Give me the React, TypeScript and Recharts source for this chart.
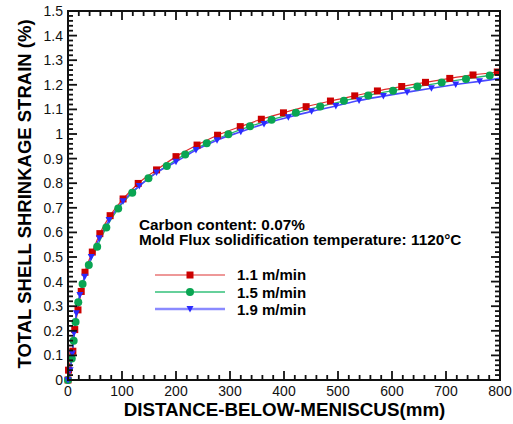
import { LineChart, Line, XAxis, YAxis } from 'recharts';

const FONT = '"Liberation Sans", Arial, Helvetica, sans-serif';

// distance below meniscus (mm) / total shell shrinkage strain (%) per casting speed
const RED_X = [0, 1, 9, 12.5, 18.5, 24.5, 31.5, 45, 59, 78, 102, 130, 164, 200, 239, 277, 319, 358, 399, 441, 486, 531, 573, 618, 662, 707, 750, 795];
const RED_Y = [0, 0.04, 0.117, 0.205, 0.285, 0.36, 0.438, 0.52, 0.595, 0.668, 0.736, 0.799, 0.854, 0.908, 0.955, 0.995, 1.03, 1.06, 1.086, 1.111, 1.134, 1.155, 1.175, 1.193, 1.21, 1.226, 1.24, 1.252];

const GREEN_X = [0, 7, 10.5, 14, 19, 27, 38.5, 54, 71, 93, 119, 149, 183, 217, 257, 297, 337, 377, 422, 467, 511, 556, 602, 647, 692, 737, 781, 800];
const GREEN_Y = [0, 0.087, 0.16, 0.236, 0.316, 0.39, 0.467, 0.542, 0.62, 0.697, 0.761, 0.82, 0.87, 0.917, 0.962, 0.999, 1.031, 1.058, 1.086, 1.112, 1.135, 1.157, 1.176, 1.193, 1.209, 1.224, 1.238, 1.244];

const BLUE_X = [0, 4, 8, 11, 15.5, 22, 31, 43, 58, 76, 102, 132, 164, 200, 237, 276, 320, 363, 408, 451, 496, 539, 584, 628, 673, 718, 762, 800];
const BLUE_Y = [0, 0.04, 0.108, 0.19, 0.271, 0.346, 0.42, 0.5, 0.576, 0.65, 0.727, 0.789, 0.843, 0.887, 0.935, 0.975, 1.009, 1.041, 1.068, 1.092, 1.114, 1.136, 1.154, 1.17, 1.186, 1.201, 1.214, 1.226];

const SPEEDS = ['1.1 m/min', '1.5 m/min', '1.9 m/min'];

const X_LABELS = [0, 100, 200, 300, 400, 500, 600, 700, 800];
const Y_LABELS = [0, 0.1, 0.2, 0.3, 0.4, 0.5, 0.6, 0.7, 0.8, 0.9, 1, 1.1, 1.2, 1.3, 1.4, 1.5];

// minor ticks every 20 mm and every 0.02 %
const X_TICKS = Array.from({ length: 41 }, (_, i) => i * 20);
const Y_TICKS = Array.from({ length: 76 }, (_, i) => i / 50);

const toPoints = (xs: number[], ys: number[]) => xs.map((x, i) => ({ x, y: ys[i] }));
const red = toPoints(RED_X, RED_Y);
const green = toPoints(GREEN_X, GREEN_Y);
const blue = toPoints(BLUE_X, BLUE_Y);

const RED = '#cc0000';
const GREEN = '#0aa552';
const BLUE = '#2b2bff';
const INK = '#111111';

const W = 513;
const H = 424;
const MARGIN = { top: 11, right: 13, bottom: 0, left: 0 };
const Y_AXIS_W = 68;
const X_AXIS_H = 44;
const PLOT_W = W - MARGIN.left - MARGIN.right - Y_AXIS_W;
const PLOT_H = H - MARGIN.top - MARGIN.bottom - X_AXIS_H;

const MAJOR = 9;
const MINOR = 5;
const TW = 1.8;
const isMajorX = (v: number) => v % 100 === 0;
const isMajorY = (v: number) => Math.round(v * 50) % 5 === 0;

function Square({ cx, cy }: { cx: number; cy: number }) {
    return <rect x={cx - 3.5} y={cy - 3.5} width={7} height={7} fill={RED} />;
}
function Circle({ cx, cy }: { cx: number; cy: number }) {
    return <circle cx={cx} cy={cy} r={4} fill={GREEN} />;
}
function Triangle({ cx, cy }: { cx: number; cy: number }) {
    return <path d={`M${cx - 3.5},${cy - 3} L${cx + 3.5},${cy - 3} L${cx},${cy + 3.5} Z`} fill={BLUE} />;
}

// bottom ticks point inward; the matching top-frame tick is drawn with it
function BottomTick({ x, y, payload }: any) {
    const v = payload.value;
    const len = isMajorX(v) ? MAJOR : MINOR;
    const top = y - PLOT_H;
    return (
        <g>
            <rect x={x - TW / 2} y={y - len} width={TW} height={len} fill={INK} />
            <rect x={x - TW / 2} y={top} width={TW} height={len} fill={INK} />
            {X_LABELS.includes(v) && (
                <text x={x} y={y + 16} textAnchor="middle" fontSize={14} fontFamily={FONT} fill={INK}>
                    {v}
                </text>
            )}
        </g>
    );
}

// left ticks point inward; the matching right-frame tick is drawn with it
function LeftTick({ x, y, payload }: any) {
    const v = payload.value;
    const len = isMajorY(v) ? MAJOR : MINOR;
    const right = x + PLOT_W;
    const label = Number(v.toFixed(1));
    return (
        <g>
            <rect x={x} y={y - TW / 2} width={len} height={TW} fill={INK} />
            <rect x={right - len} y={y - TW / 2} width={len} height={TW} fill={INK} />
            {isMajorY(v) && Y_LABELS.includes(label) && (
                <text x={x - 5} y={y + 5} textAnchor="end" fontSize={14} fontFamily={FONT} fill={INK}>
                    {String(label)}
                </text>
            )}
        </g>
    );
}

const LEGEND = [
    { label: SPEEDS[0], stroke: '#dd3333', width: 1.2, Mark: Square },
    { label: SPEEDS[1], stroke: '#33c07a', width: 1.5, Mark: Circle },
    { label: SPEEDS[2], stroke: '#8a8aff', width: 2.5, Mark: Triangle },
];

// baseline-positioned bold label (line-height 1 puts the baseline at ~0.8465em)
const boldText = (left: number, baseline: number, size: number): React.CSSProperties => ({
    position: 'absolute',
    left,
    top: baseline - 0.8465 * size,
    fontSize: size,
    lineHeight: 1,
    fontWeight: 700,
    whiteSpace: 'nowrap',
    color: '#000',
});

export default function App() {
    return (
        <div style={{ position: 'absolute', left: 0, top: 0, width: W, height: H, fontFamily: FONT }}>
            <LineChart width={W} height={H} margin={MARGIN}>
                <XAxis type="number" dataKey="x" domain={[0, 800]} ticks={X_TICKS} interval={0}
                    height={X_AXIS_H} tickSize={0} tickMargin={0} tickLine={false} stroke={INK} strokeWidth={2} tick={BottomTick} />
                <YAxis type="number" domain={[0, 1.5]} ticks={Y_TICKS} interval={0}
                    width={Y_AXIS_W} tickSize={0} tickMargin={0} tickLine={false} stroke={INK} strokeWidth={2} tick={LeftTick} />
                <Line data={red} dataKey="y" type="monotone" stroke="#e02a2a" strokeWidth={1.2}
                    dot={(p: any) => <Square key={p.index} cx={p.cx} cy={p.cy} />} activeDot={false} isAnimationActive={false} />
                <Line data={green} dataKey="y" type="monotone" stroke="#22b86c" strokeWidth={1.3}
                    dot={(p: any) => (p.index === GREEN_X.length - 1 ? <g key={p.index} /> : <Circle key={p.index} cx={p.cx} cy={p.cy} />)}
                    activeDot={false} isAnimationActive={false} />
                <Line data={blue} dataKey="y" type="monotone" stroke="#4a4aff" strokeWidth={1.6}
                    dot={(p: any) => (p.index === BLUE_X.length - 1 ? <g key={p.index} /> : <Triangle key={p.index} cx={p.cx} cy={p.cy} />)}
                    activeDot={false} isAnimationActive={false} />
            </LineChart>

            {/* plot frame */}
            <div
                style={{
                    position: 'absolute',
                    left: MARGIN.left + Y_AXIS_W - 1,
                    top: MARGIN.top - 1,
                    width: PLOT_W + 2,
                    height: PLOT_H + 2,
                    border: `2px solid ${INK}`,
                    boxSizing: 'border-box',
                    pointerEvents: 'none',
                }}
            />

            <div
                style={{
                    ...boldText(0, 0, 18.5),
                    left: 24.6,
                    top: 193.5,
                    transform: 'translate(-50%, -50%) rotate(-90deg)',
                }}
            >
                TOTAL SHELL SHRINKAGE STRAIN (%)
            </div>
            <div style={{ ...boldText(284.5, 417, 18.8), transform: 'translateX(-50%)' }}>DISTANCE-BELOW-MENISCUS(mm)</div>
            <div style={boldText(139, 229.5, 15.3)}>Carbon content: 0.07%</div>
            <div style={boldText(139, 244.5, 15.3)}>Mold Flux solidification temperature: 1120°C</div>

            {LEGEND.map(({ label, stroke, width, Mark }, i) => {
                const cy = 275 + i * 17.2;
                return (
                    <div key={label}>
                        <svg width={72} height={12} style={{ position: 'absolute', left: 154, top: cy - 6 }}>
                            <line x1={1} x2={71} y1={6} y2={6} stroke={stroke} strokeWidth={width} />
                            <Mark cx={36} cy={6} />
                        </svg>
                        <div style={boldText(237, cy + 5, 15)}>{label}</div>
                    </div>
                );
            })}
        </div>
    );
}
